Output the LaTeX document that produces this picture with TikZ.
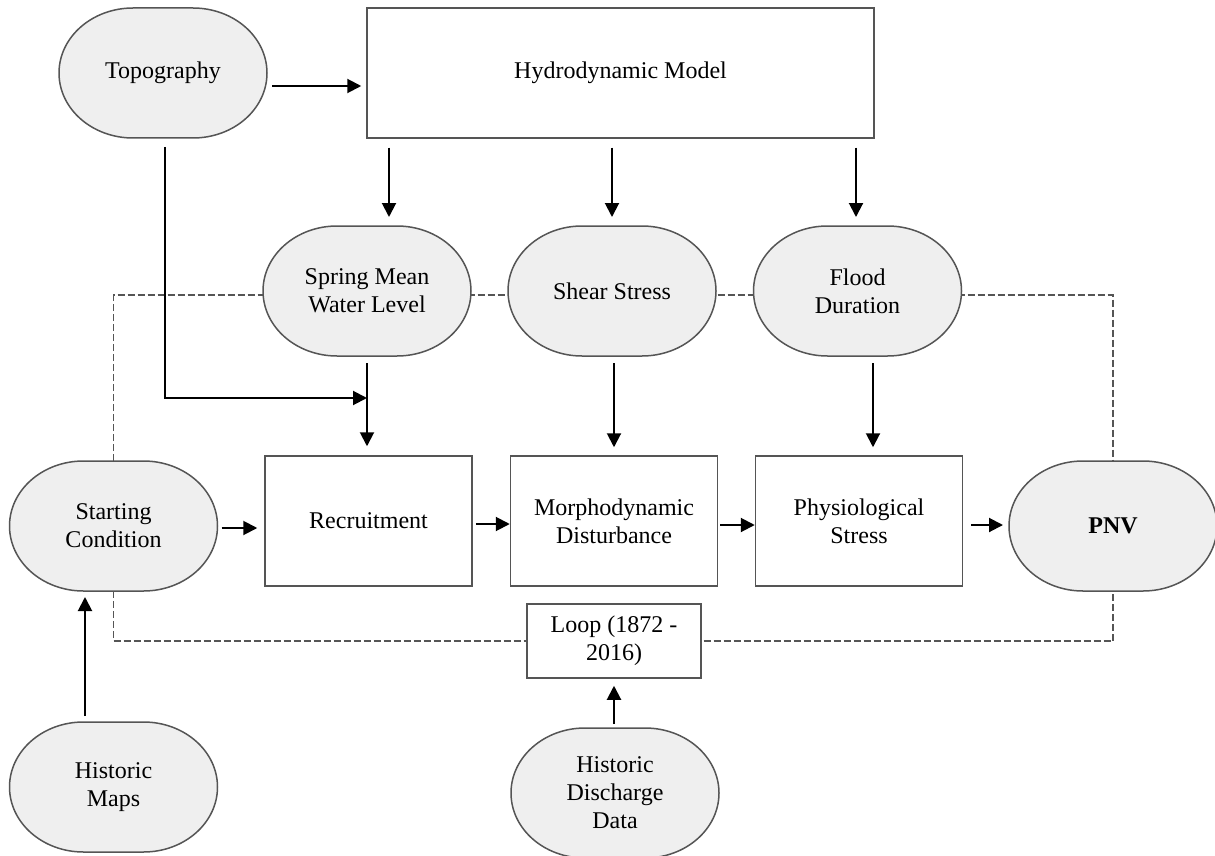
\documentclass[tikz,border=0pt]{standalone}
\usepackage{fontspec}
\setmainfont{Liberation Serif}
\usetikzlibrary{arrows.meta,backgrounds,calc}
\definecolor{bgray}{HTML}{555555}
\definecolor{fgray}{HTML}{EFEFEF}
\begin{document}
\begin{tikzpicture}[x=1pt,y=-1pt,
 term/.style={minimum width=208pt,minimum height=130pt,align=center,inner sep=0pt,outer sep=0pt,font=\fontsize{24}{28}\selectfont},
 termshape/.style={draw=bgray,fill=fgray,line width=1.5pt,line join=round},
 procbox/.style={draw=bgray,fill=white,line width=1.5pt,minimum width=207pt,minimum height=130pt,align=center,inner sep=0pt,font=\fontsize{24}{28}\selectfont},
 arr/.style={-{Triangle[length=14pt,width=14pt]},line width=2pt,black},
 loopline/.style={draw=bgray,line width=1.5pt,dash pattern=on 7pt off 3pt}]
\useasboundingbox (0,0) rectangle (1215,856);

\node[term] (topo) at (163,73) {Topography};
\node[procbox,minimum width=507pt] (hydro) at (620.5,73) {Hydrodynamic Model};
\node[term] (spring) at (367,291) {Spring Mean\\Water Level};
\node[term] (shear) at (612,291) {Shear Stress};
\node[term] (flood) at (857.5,291) {Flood\\Duration};
\node[term] (start) at (113.5,526) {Starting\\Condition};
\node[procbox] (recruit) at (368.5,521) {Recruitment};
\node[procbox] (morpho) at (614,521) {Morphodynamic\\Disturbance};
\node[procbox] (physio) at (859,521) {Physiological\\Stress};
\node[term,font=\fontsize{24}{28}\selectfont\bfseries] (pnv) at (1113,526) {PNV};
\node[procbox,minimum width=174pt,minimum height=74pt] (loop) at (614,641) {Loop (1872 -\\2016)};
\node[term] (maps) at (113.5,787) {Historic\\Maps};
\node[term] (discharge) at (615,793) {Historic\\Discharge\\Data};

\begin{scope}[on background layer]
\fill[white] (0,0) rectangle (1215,856);
\draw[loopline] (start.north) -- (start.north |- 0,295) -- (pnv.north |- 0,295) -- (pnv.north);
\draw[loopline] (start.south) -- (start.south |- 0,641) -- (pnv.south |- 0,641) -- (pnv.south);
\foreach \n in {topo,spring,shear,flood,start,pnv,maps,discharge}{
  \draw[termshape] ($(\n.north west)+(74,0)$) -- ($(\n.north east)+(-74,0)$)
    arc[start angle=90,end angle=-90,x radius=74pt,y radius=65pt]
    -- ($(\n.south west)+(74,0)$)
    arc[start angle=270,end angle=90,x radius=74pt,y radius=65pt] -- cycle;
}
\end{scope}

\draw[arr,shorten <=5pt,shorten >=5pt] (topo.east |- 0,86) -- (hydro.west |- 0,86);
\draw[arr,shorten <=9pt,shorten >=9pt] (hydro.south -| 389,0) -- (spring.north -| 389,0);
\draw[arr,shorten <=9pt,shorten >=9pt] (hydro.south -| shear.north) -- (shear.north);
\draw[arr,shorten <=9pt,shorten >=9pt] (hydro.south -| 856,0) -- (flood.north -| 856,0);
\draw[arr,shorten <=7pt,shorten >=9pt] (spring.south) -- (recruit.north -| spring.south);
\draw[arr,shorten <=7pt,shorten >=8pt] (shear.south -| morpho.north) -- (morpho.north);
\draw[arr,shorten <=7pt,shorten >=8pt] (flood.south -| 873,0) -- (physio.north -| 873,0);
\draw[arr,shorten <=9pt] (topo.south -| 165,0) |- (spring.south |- 0,398);

\draw[arr,shorten <=4pt,shorten >=7pt] (start.east |- 0,528) -- (recruit.west |- 0,528);
\draw[arr,shorten <=3pt] (recruit.east |- 0,524) -- (morpho.west |- 0,524);
\draw[arr,shorten <=2pt] (morpho.east |- 0,525) -- (physio.west |- 0,525);
\draw[arr,shorten <=8pt,shorten >=6pt] (physio.east |- 0,525) -- (pnv.west |- 0,525);
\draw[arr,shorten <=6pt,shorten >=6pt] (maps.north -| 85,0) -- (start.south -| 85,0);
\draw[arr,shorten <=4pt,shorten >=7pt] (discharge.north -| loop.south) -- (loop.south);
\end{tikzpicture}
\end{document}
